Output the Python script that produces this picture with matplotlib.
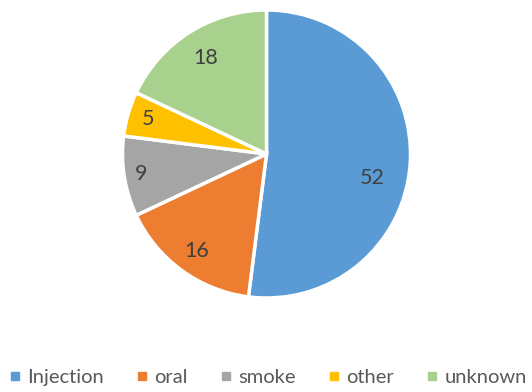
import numpy as np
import matplotlib.pyplot as plt
from matplotlib.lines import Line2D

plt.rcParams['font.family'] = ['Lato', 'DejaVu Sans']

categories = ['Injection', 'oral', 'smoke', 'other', 'unknown']
values = [52, 16, 9, 5, 18]
colors = ['#5B9BD5', '#ED7D31', '#A5A5A5', '#FFC000', '#A9D18E']
# radial distance and angle nudge for each value label
label_r = [0.75, 0.83, 0.88, 0.86, 0.79]
label_nudge = [-9, 0, 0, 0, 0]

fig = plt.figure(figsize=(5.32, 3.92), dpi=100)
ax = fig.add_axes([122.5 / 532, 94 / 392, 288 / 532, 288 / 392])

wedges, _ = ax.pie(values, colors=colors, startangle=90, counterclock=False,
                   radius=1.0, wedgeprops=dict(edgecolor='white', linewidth=2.5))

for w, v, r, d in zip(wedges, values, label_r, label_nudge):
    mid = np.deg2rad((w.theta1 + w.theta2) / 2 + d)
    ax.text(r * np.cos(mid), r * np.sin(mid), str(v), ha='center', va='center',
            fontsize=15.5, color='#404040')

ax.set_xlim(-1, 1)
ax.set_ylim(-1, 1)
ax.set_aspect('equal')
ax.axis('off')

handles = [Line2D([], [], marker='s', linestyle='none', markersize=6,
                  markerfacecolor=c, markeredgecolor=c) for c in colors]
fig.legend(handles, categories, loc='center', bbox_to_anchor=(0.5, 1 - 377 / 392),
           ncol=5, frameon=False, fontsize=14.5, handletextpad=0.1,
           columnspacing=1.4, handlelength=1.0, labelcolor='#595959')

fig.savefig('out.png', dpi=100)
